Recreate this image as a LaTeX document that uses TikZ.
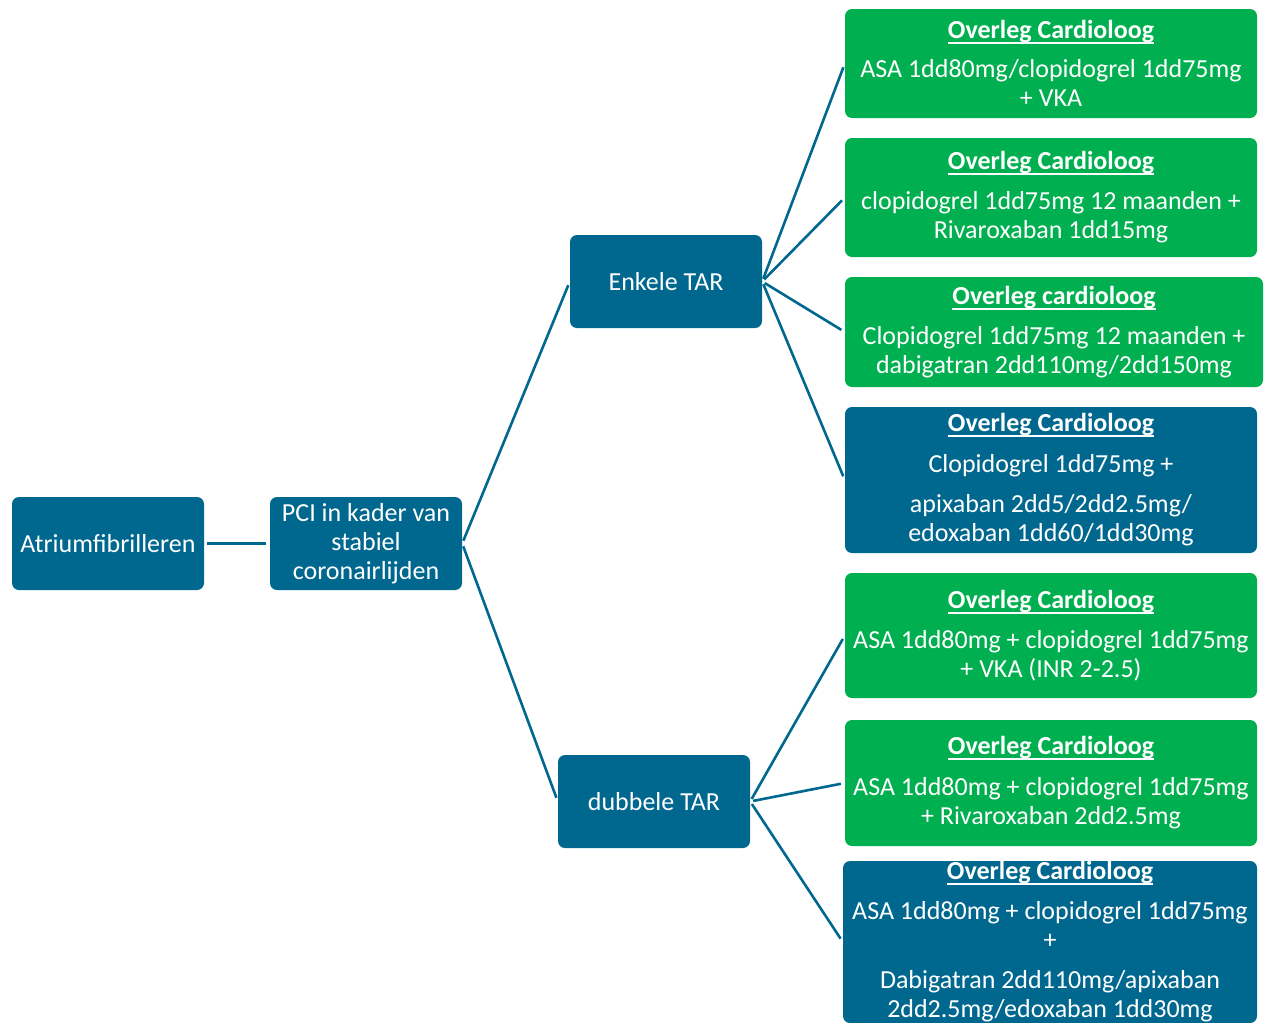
\documentclass[tikz,border=0pt]{standalone}
\usepackage{fontspec}
\setmainfont{Carlito}
\definecolor{tblue}{RGB}{0,104,143}
\definecolor{tgreen}{RGB}{0,176,80}
\newcommand{\ttl}[1]{\textbf{\setbox0\hbox{#1}\rlap{\rule[-5.5pt]{\wd0}{2pt}}\box0}}
\begin{document}
\begin{tikzpicture}[x=1pt,y=-1pt,
  box/.style={rectangle, rounded corners=7pt, text=white, align=center, inner sep=0pt, font=\fontsize{26}{29}\selectfont},
  bbox/.style={box, fill=tblue},
  gbox/.style={box, fill=tgreen},
  link/.style={draw=tblue, line width=2.6pt, shorten <=3pt, shorten >=4pt}]
\useasboundingbox (0,0) rectangle (1267,1023);
\begin{scope}
\clip (0,0) rectangle (1267,1023);
\node[bbox, minimum width=192pt, minimum height=93pt] (af) at (108,543.5) {Atriumfibrilleren};
\node[bbox, minimum width=192pt, minimum height=93pt] (pci) at (366,543.5) {PCI in kader van\\stabiel\\coronairlijden};
\node[bbox, minimum width=192pt, minimum height=93pt] (enk) at (666,281.5) {Enkele TAR};
\node[bbox, minimum width=192pt, minimum height=93pt] (dub) at (654,801.5) {dubbele TAR};

\node[gbox, minimum width=412pt, minimum height=109pt] (g1) at (1051,63.5)
  {\ttl{Overleg Cardioloog}\\[10pt]ASA 1dd80mg/clopidogrel 1dd75mg\\+ VKA};
\node[gbox, minimum width=412pt, minimum height=119pt] (g2) at (1051,197.5)
  {\ttl{Overleg Cardioloog}\\[11pt]clopidogrel 1dd75mg 12 maanden +\\Rivaroxaban 1dd15mg};
\node[gbox, minimum width=418pt, minimum height=110pt] (g3) at (1054,332)
  {\ttl{Overleg cardioloog}\\[11pt]Clopidogrel 1dd75mg 12 maanden +\\dabigatran 2dd110mg/2dd150mg};
\node[bbox, minimum width=412pt, minimum height=146pt] (b4) at (1051,480)
  {\ttl{Overleg Cardioloog}\\[12pt]Clopidogrel 1dd75mg +\\[11pt]apixaban 2dd5/2dd2.5mg/\\edoxaban 1dd60/1dd30mg};
\node[gbox, minimum width=412pt, minimum height=125pt] (g5) at (1051,635.5)
  {\ttl{Overleg Cardioloog}\\[11pt]ASA 1dd80mg + clopidogrel 1dd75mg\\+ VKA (INR 2-2.5)};
\node[gbox, minimum width=412pt, minimum height=126pt] (g6) at (1051,783)
  {\ttl{Overleg Cardioloog}\\[12pt]ASA 1dd80mg + clopidogrel 1dd75mg\\+ Rivaroxaban 2dd2.5mg};
\node[bbox, minimum width=414pt, minimum height=162pt] (b7) at (1050,942)
  {\ttl{Overleg Cardioloog}\\[11pt]ASA 1dd80mg + clopidogrel 1dd75mg\\+\\[11pt]Dabigatran 2dd110mg/apixaban\\2dd2.5mg/edoxaban 1dd30mg};

\draw[link] (af) -- (pci);
\draw[link] (pci.east) -- (enk.west);
\draw[link] (pci.east) -- (dub.west);
\draw[link] (enk.east) -- (g1.west);
\draw[link] (enk.east) -- (g2.west);
\draw[link] (enk.east) -- (g3.west);
\draw[link] (enk.east) -- (b4.west);
\draw[link] (dub.east) -- (g5.west);
\draw[link] (dub.east) -- (g6.west);
\draw[link] (dub.east) -- (b7.west);
\end{scope}
\end{tikzpicture}
\end{document}
